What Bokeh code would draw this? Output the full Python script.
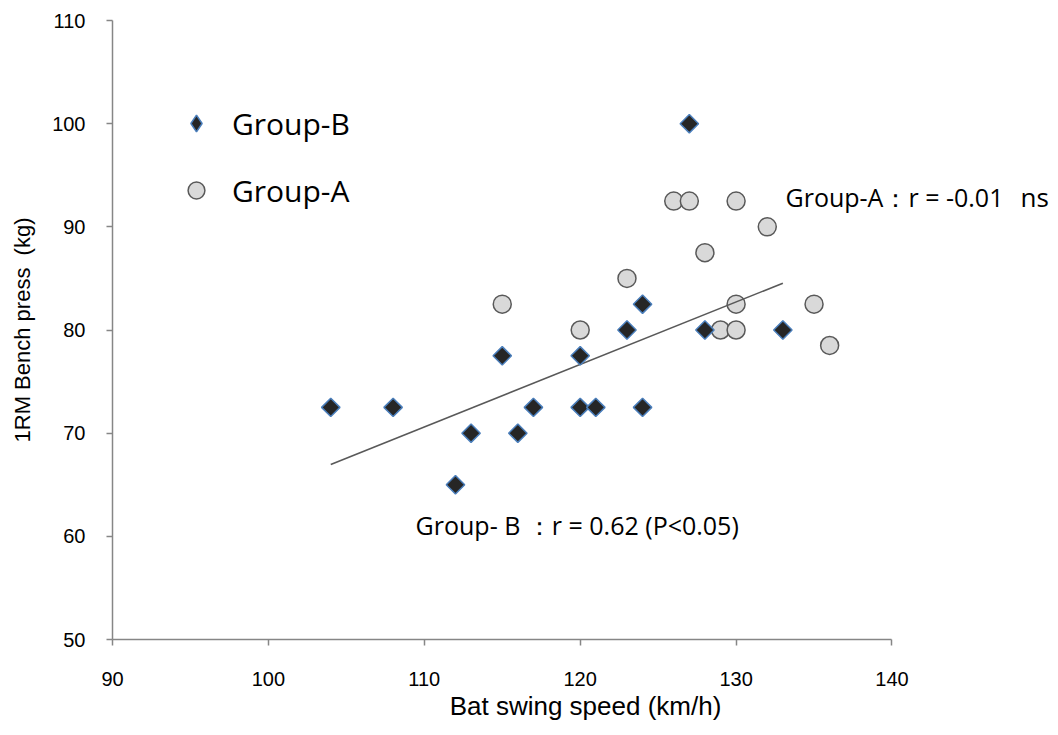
import numpy as np
from bokeh.plotting import figure
from bokeh.models import Label, Legend, LegendItem, FixedTicker, Range1d
from bokeh.embed import file_html
from bokeh.resources import INLINE

# Group-B (diamonds)
b_speed = [104, 108, 112, 113, 115, 116, 117, 120, 120, 121, 123, 124, 124, 127, 128, 133]
b_press = [72.5, 72.5, 65, 70, 77.5, 70, 72.5, 77.5, 72.5, 72.5, 80, 82.5, 72.5, 100, 80, 80]
# Group-A (circles)
a_speed = [115, 120, 123, 126, 127, 128, 129, 130, 130, 130, 132, 135, 136]
a_press = [82.5, 80, 85, 92.5, 92.5, 87.5, 80, 92.5, 82.5, 80, 90, 82.5, 78.5]

x_ticks = [90, 100, 110, 120, 130, 140]
y_ticks = [50, 60, 70, 80, 90, 100, 110]

p = figure(frame_width=946, frame_height=619,
           x_range=Range1d(90, 150.68), y_range=Range1d(50, 110),
           output_backend="svg", toolbar_location=None,
           min_border_left=112, min_border_right=0,
           min_border_top=20, min_border_bottom=96)
p.outline_line_color = None
p.xgrid.visible = False
p.ygrid.visible = False
p.background_fill_color = "white"

axis_col = "#868686"
for ax in (p.xaxis[0], p.yaxis[0]):
    ax.axis_line_color = axis_col
    ax.axis_line_width = 1.5
    ax.major_tick_line_color = axis_col
    ax.major_tick_line_width = 1.5
    ax.major_tick_out = 6
    ax.major_tick_in = 0
    ax.minor_tick_line_color = None
    ax.major_label_text_font = "Liberation Sans"
    ax.major_label_text_font_size = "20px"
    ax.major_label_text_color = "black"
    ax.axis_label_text_font = "Liberation Sans"
    ax.axis_label_text_font_style = "normal"
    ax.axis_label_text_color = "black"

p.xaxis.bounds = (90, 140)
p.xaxis.ticker = FixedTicker(ticks=x_ticks)
p.yaxis.ticker = FixedTicker(ticks=y_ticks)
p.xaxis.major_label_standoff = 26
p.yaxis.major_label_standoff = 21
p.xaxis.axis_label = "Bat swing speed (km/h)"
p.yaxis.axis_label = "1RM Bench press\u00a0\u00a0(kg)"
p.xaxis.axis_label_text_font_size = "26px"
p.yaxis.axis_label_text_font_size = "22px"
p.xaxis.axis_label_standoff = 2
p.yaxis.axis_label_standoff = 14

ra = p.scatter(a_speed, a_press, marker="circle", size=18,
               fill_color="#d9d9d9", line_color="#595959", line_width=1.5)

fit = np.polyfit(b_speed, b_press, 1)
xs = np.array([min(b_speed), max(b_speed)])
p.line(xs, np.polyval(fit, xs), line_color="#595959", line_width=1.6)

rb = p.scatter(b_speed, b_press, marker="square", angle=np.pi / 4, size=13,
               fill_color="#262626", line_color="#4a7ebb", line_width=1.5)

# legend-only glyphs (a single NaN so nothing is drawn in the plot area)
leg_b = p.scatter(x=[np.nan], y=[np.nan], marker="diamond", fill_color="#262626",
                  line_color="#4a7ebb", line_width=1.5)
leg_a = p.scatter(x=[np.nan], y=[np.nan], marker="circle", fill_color="#d9d9d9",
                  line_color="#595959", line_width=1.5)

legend = Legend(items=[LegendItem(label="Group-B", renderers=[leg_b]),
                       LegendItem(label="Group-A", renderers=[leg_a])],
                location=(63, 428), orientation="vertical",
                glyph_width=42, glyph_height=42, label_height=42,
                label_standoff=15, spacing=25, padding=0, margin=0,
                border_line_color=None, background_fill_alpha=0,
                label_text_font="Open Sans", label_text_font_size="30px",
                label_text_color="black")
p.add_layout(legend, "center")

p.add_layout(Label(x=133.17, y=92.85, text="Group-A\uff1ar = -0.01",
                   text_baseline="middle", text_align="left",
                   text_font="Open Sans", text_font_size="25px", text_color="black"))
p.add_layout(Label(x=148.24, y=92.85, text="ns",
                   text_baseline="middle", text_align="left",
                   text_font="Open Sans", text_font_size="26px", text_color="black"))
p.add_layout(Label(x=109.44, y=61.07, text="Group- B \uff1ar = 0.62 (P<0.05)",
                   text_baseline="middle", text_align="left",
                   text_font="Open Sans", text_font_size="25px", text_color="black"))

open("out.html", "w").write(file_html(p, INLINE))
